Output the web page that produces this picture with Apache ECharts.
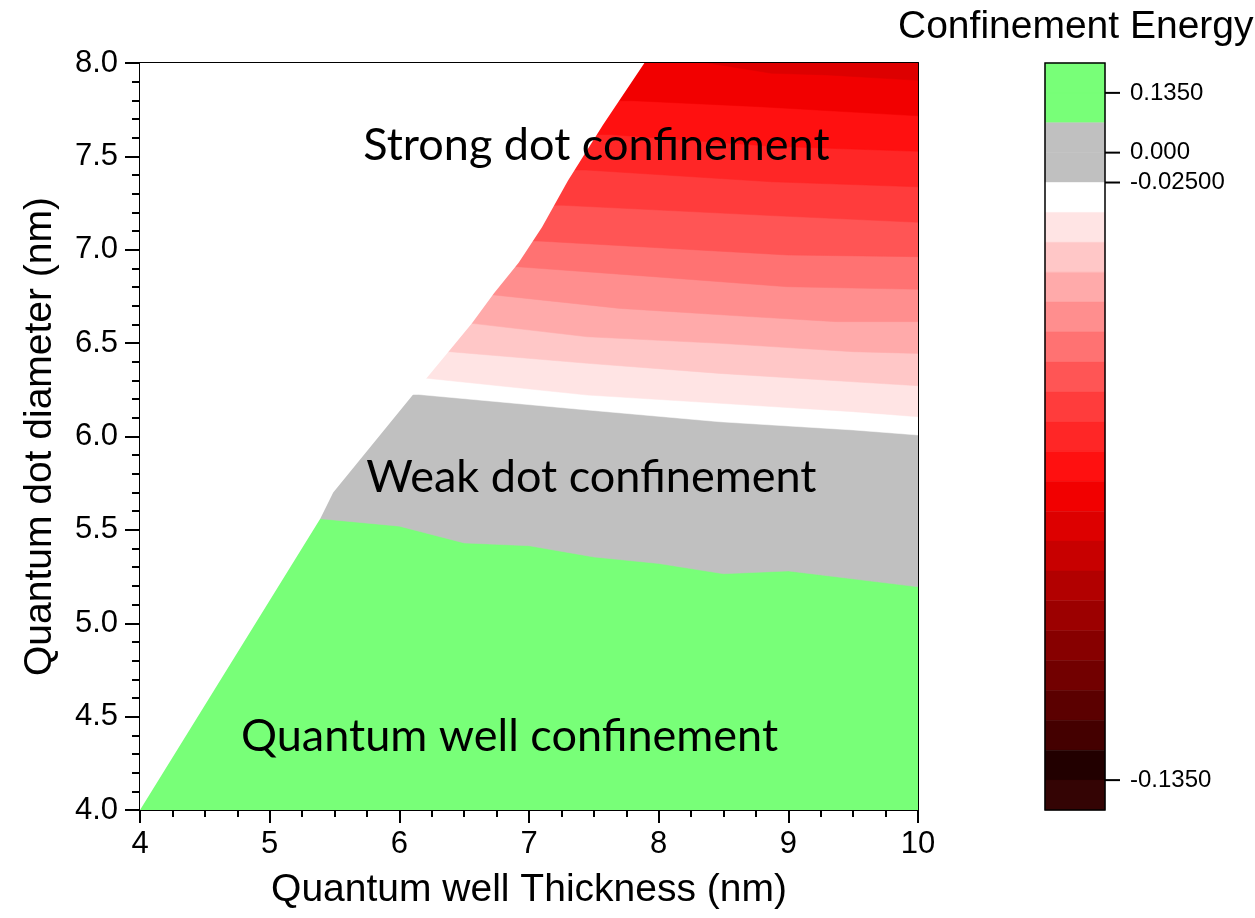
<!DOCTYPE html>
<html>
<head>
<meta charset="utf-8">
<script src="https://cdn.jsdelivr.net/npm/echarts@6/dist/echarts.min.js"></script>
<style>
  html, body { margin: 0; padding: 0; background: #fff; }
  #main { width: 1255px; height: 918px; }
</style>
</head>
<body>
<div id="main"></div>
<script>
// Axis extents
const thicknessRange = [4, 10];   // quantum well thickness (nm)
const diameterRange = [4, 8];     // quantum dot diameter (nm)

// Contour level boundaries of the energy scale, highest first
const levelValues = [0.27, 0.135, 0.0675, 0, -0.025, -0.0305, -0.036, -0.0415, -0.047,
  -0.0525, -0.058, -0.0635, -0.069, -0.0745, -0.08, -0.0855, -0.091, -0.0965, -0.102,
  -0.1075, -0.113, -0.1185, -0.124, -0.1295, -0.135, -0.1405];

// Fill colour of each band between consecutive levels, highest band first
const bandColors = ['#78FF78', '#78FF78', '#C0C0C0', '#C0C0C0', '#FFFFFF', '#FFE4E4',
  '#FFC7C7', '#FFAAAA', '#FF8E8E', '#FF7272', '#FF5555', '#FF3C3C', '#FF2626', '#FF1010',
  '#F20000', '#DD0000', '#C80000', '#B20000', '#9C0000', '#870000', '#720000', '#5B0000',
  '#440000', '#220000', '#340404'];

// Labelled levels on the colour scale
const scaleTickLevels = [0.135, 0, -0.025, -0.135];
const scaleTickLabels = ['0.1350', '0.000', '-0.02500', '-0.1350'];

// Iso-energy lines as [thickness, diameter] points
const iso_p0675 = [[5.39, 5.56], [6.0, 5.52], [6.5, 5.43], [7.0, 5.415], [7.5, 5.355],
  [8.0, 5.32], [8.5, 5.265], [9.0, 5.28], [10.0, 5.195]];
const iso_m0250 = [[6.15, 6.225], [7.45, 6.142], [8.47, 6.079], [9.5, 6.035], [10.0, 6.008]];
const iso_m0305 = [[6.21, 6.312], [7.45, 6.222], [8.47, 6.178], [9.5, 6.133], [10.0, 6.106]];
const iso_m0360 = [[6.39, 6.454], [7.45, 6.392], [8.47, 6.338], [9.5, 6.293], [10.0, 6.272]];
const iso_m0415 = [[6.56, 6.606], [7.45, 6.534], [8.47, 6.499], [9.5, 6.454], [10.0, 6.445]];
const iso_m0470 = [[6.73, 6.758], [7.70, 6.686], [8.73, 6.641], [9.37, 6.615], [10.0, 6.615]];
const iso_m0525 = [[6.91, 6.909], [7.96, 6.856], [8.99, 6.802], [10.0, 6.788]];
const iso_m0580 = [[7.07, 7.047], [8.99, 6.972], [10.0, 6.963]];
const iso_m0635 = [[7.26, 7.238], [8.87, 7.183], [10.0, 7.147]];
const iso_m0690 = [[7.44, 7.427], [8.87, 7.364], [10.0, 7.337]];
const iso_m0745 = [[7.62, 7.617], [8.87, 7.554], [10.0, 7.527]];
const iso_m0800 = [[7.80, 7.798], [8.78, 7.766], [10.0, 7.717]];
const iso_m0855 = [[8.20, 8.02], [8.87, 7.945], [9.30, 7.936], [10.0, 7.907]];

const isoLines = [
  [0.0675, iso_p0675], [-0.025, iso_m0250], [-0.0305, iso_m0305], [-0.036, iso_m0360],
  [-0.0415, iso_m0415], [-0.047, iso_m0470], [-0.0525, iso_m0525], [-0.058, iso_m0580],
  [-0.0635, iso_m0635], [-0.069, iso_m0690], [-0.0745, iso_m0745], [-0.08, iso_m0800],
  [-0.0855, iso_m0855]
];

// Upper-left limit of the computed (thickness, diameter) domain
const domainEdge = [[4, 4], [5.39, 5.56], [5.49, 5.70], [6.16, 6.27], [6.39, 6.463],
  [6.56, 6.606], [6.73, 6.767], [6.92, 6.93], [7.10, 7.12], [7.30, 7.37],
  [7.57, 7.668], [7.89, 8.0]];

// Region annotations
const regionNames = ['Strong dot confinement', 'Weak dot confinement', 'Quantum well confinement'];
const regionAnchors = [[7.52, 7.556], [7.48, 5.778], [6.85, 4.391]];

// ---------- geometry built from the data above ----------
const xLo = thicknessRange[0] - 1, xHi = thicknessRange[1] + 1;
const yLo = diameterRange[0] - 1, yHi = diameterRange[1] + 1;

// Energy falls with diameter: each iso-line's upper side belongs to the next lower band.
const fillPolygons = [];
fillPolygons.push({
  color: bandColors[levelValues.indexOf(isoLines[0][0]) - 1],
  points: [[xLo, yLo], [xHi, yLo], [xHi, yHi], [xLo, yHi]]
});
isoLines.forEach(([level, pts]) => {
  const first = pts[0], last = pts[pts.length - 1];
  fillPolygons.push({
    color: bandColors[levelValues.indexOf(level)],
    points: [[xLo, first[1]], ...pts, [xHi, last[1]], [xHi, yHi], [xLo, yHi]]
  });
});

const edgeTop = domainEdge[domainEdge.length - 1];
const maskPolygon = [[xLo, yLo], ...domainEdge, [edgeTop[0] + 0.5, yHi], [xLo, yHi]];

const nBands = bandColors.length;
const bandPos = (level) => levelValues.length - 1 - levelValues.indexOf(level);
const tickPositions = scaleTickLevels.map(bandPos);

const axisFont = 'Liberation Sans, Arial, sans-serif';
const black = '#000';

const chart = echarts.init(document.getElementById('main'), null, { renderer: 'canvas' });

const option = {
  backgroundColor: '#fff',
  animation: false,
  title: {
    text: 'Confinement Energy',
    left: 898, top: 8, padding: 0,
    textStyle: { fontFamily: axisFont, fontSize: 39, fontWeight: 'normal', color: black }
  },
  grid: [
    { left: 140, top: 63, width: 778, height: 747, show: false },
    { left: 1045, top: 63, width: 60, height: 747, show: false }
  ],
  xAxis: [
    {
      gridIndex: 0, type: 'value', min: 4, max: 10, interval: 1,
      name: 'Quantum well Thickness (nm)', nameLocation: 'middle', nameGap: 61,
      nameTextStyle: { fontFamily: axisFont, fontSize: 39, color: black },
      axisLine: { show: true, onZero: false, lineStyle: { color: black, width: 2 } },
      axisTick: { show: true, length: 13, lineStyle: { color: black, width: 2 } },
      minorTick: { show: true, splitNumber: 4, length: 7, lineStyle: { color: black, width: 2 } },
      axisLabel: { fontFamily: axisFont, fontSize: 31, color: black, margin: 19 },
      splitLine: { show: false }, minorSplitLine: { show: false }
    },
    {
      gridIndex: 0, type: 'value', min: 4, max: 10, position: 'top',
      axisLine: { show: true, onZero: false, lineStyle: { color: black, width: 2 } },
      axisTick: { show: false }, axisLabel: { show: false }, splitLine: { show: false }
    },
    {
      gridIndex: 1, type: 'value', min: 0, max: 1, show: false
    }
  ],
  yAxis: [
    {
      gridIndex: 0, type: 'value', min: 4, max: 8, interval: 0.5,
      name: 'Quantum dot diameter (nm)', nameLocation: 'middle', nameGap: 80,
      nameTextStyle: { fontFamily: axisFont, fontSize: 39, color: black },
      axisLine: { show: true, onZero: false, lineStyle: { color: black, width: 2 } },
      axisTick: { show: true, length: 15, lineStyle: { color: black, width: 2 } },
      minorTick: { show: true, splitNumber: 5, length: 8, lineStyle: { color: black, width: 2 } },
      axisLabel: { fontFamily: axisFont, fontSize: 31, color: black, margin: 22,
        formatter: (v) => v.toFixed(1) },
      splitLine: { show: false }, minorSplitLine: { show: false }
    },
    {
      gridIndex: 0, type: 'value', min: 4, max: 8, position: 'right',
      axisLine: { show: true, onZero: false, lineStyle: { color: black, width: 2 } },
      axisTick: { show: false }, axisLabel: { show: false }, splitLine: { show: false }
    },
    {
      gridIndex: 1, type: 'value', min: 0, max: nBands, position: 'right',
      axisLine: { show: false },
      axisTick: { show: false },
      axisLabel: { show: true, customValues: tickPositions, margin: 25,
        fontFamily: axisFont, fontSize: 24, color: black,
        formatter: (v) => {
          const i = tickPositions.indexOf(Math.round(v));
          return i >= 0 ? scaleTickLabels[i] : '';
        } },
      splitLine: { show: false }
    }
  ],
  series: [
    {
      // filled contour bands
      type: 'custom', xAxisIndex: 0, yAxisIndex: 0, clip: true, silent: true,
      data: fillPolygons.map((p, i) => [i]),
      renderItem: (params, api) => {
        const poly = fillPolygons[params.dataIndex];
        return {
          type: 'polygon',
          shape: { points: poly.points.map((pt) => api.coord(pt)) },
          style: { fill: poly.color, stroke: poly.color, lineWidth: 0.5 }
        };
      }
    },
    {
      // area outside the computed domain
      type: 'custom', xAxisIndex: 0, yAxisIndex: 0, clip: true, silent: true,
      data: [[0]],
      renderItem: (params, api) => ({
        type: 'polygon',
        shape: { points: maskPolygon.map((pt) => api.coord(pt)) },
        style: { fill: '#fff' }
      })
    },
    {
      // region annotations
      type: 'custom', xAxisIndex: 0, yAxisIndex: 0, clip: false, silent: true,
      data: regionAnchors,
      renderItem: (params, api) => {
        const p = api.coord([api.value(0), api.value(1)]);
        return {
          type: 'text', x: p[0], y: p[1],
          style: {
            text: regionNames[params.dataIndex],
            fontFamily: 'Lato, sans-serif', fontSize: 45, fill: black,
            align: 'center', verticalAlign: 'middle'
          }
        };
      }
    },
    {
      // colour scale cells
      type: 'custom', xAxisIndex: 2, yAxisIndex: 2, silent: true,
      data: bandColors.map((c, i) => [i]),
      renderItem: (params, api) => {
        const i = params.dataIndex;
        const a = api.coord([0, nBands - i]);
        const b = api.coord([1, nBands - i - 1]);
        return {
          type: 'rect',
          shape: { x: a[0], y: a[1], width: b[0] - a[0], height: b[1] - a[1] },
          style: { fill: bandColors[i], stroke: bandColors[i], lineWidth: 0.5 }
        };
      }
    },
    {
      // colour scale outline and ticks at the labelled levels
      type: 'custom', xAxisIndex: 2, yAxisIndex: 2, silent: true, z: 3,
      data: [[0]],
      renderItem: (params, api) => {
        const a = api.coord([0, nBands]);
        const b = api.coord([1, 0]);
        const children = [{
          type: 'rect',
          shape: { x: a[0], y: a[1], width: b[0] - a[0], height: b[1] - a[1] },
          style: { fill: 'none', stroke: black, lineWidth: 1.5 }
        }];
        tickPositions.forEach((t) => {
          const p = api.coord([1, t]);
          children.push({
            type: 'line',
            shape: { x1: p[0], y1: p[1], x2: p[0] + 15, y2: p[1] },
            style: { stroke: black, lineWidth: 2 }
          });
        });
        return { type: 'group', children };
      }
    }
  ]
};

chart.setOption(option);
</script>
</body>
</html>
